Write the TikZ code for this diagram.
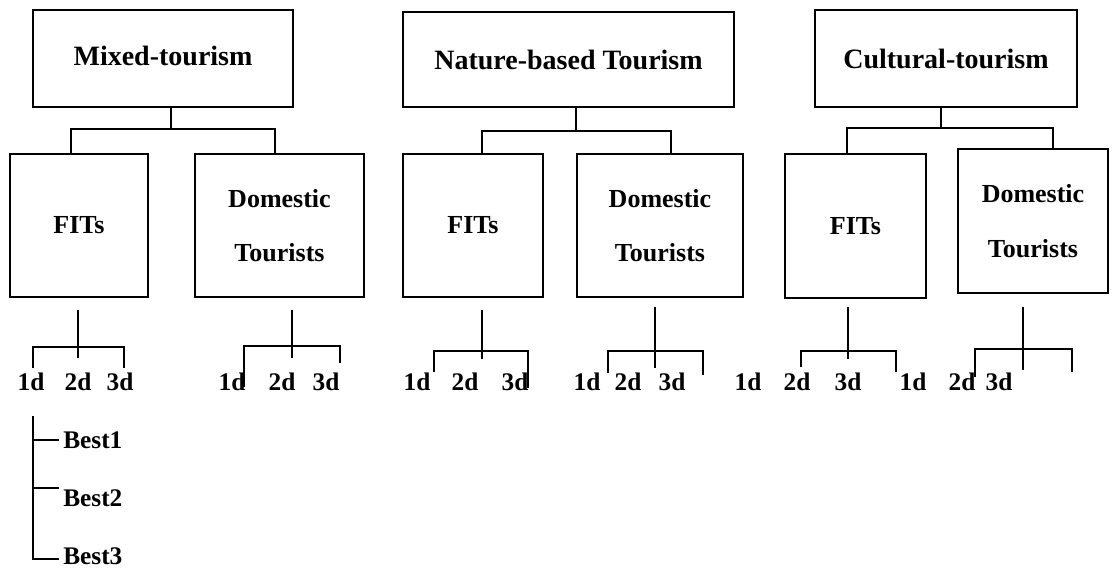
\documentclass[tikz,border=0pt]{standalone}
\usepackage{fontspec}
\setmainfont{Liberation Serif}
\begin{document}
\begin{tikzpicture}[x=0.75pt,y=-0.75pt,
  box/.style={draw,line width=1.4pt,inner sep=0pt,align=center,font=\fontsize{19.5}{41}\selectfont\bfseries},
  topbox/.style={box,font=\fontsize{21}{25}\selectfont\bfseries},
  lbl/.style={inner sep=3pt,font=\fontsize{19}{23}\selectfont\bfseries},
  conn/.style={line width=1.4pt}]
\useasboundingbox[fill=white] (0,0) rectangle (1118,571);

% top boxes
\node[topbox,minimum width=195pt,minimum height=72.75pt] (mix) at (163,58.5) {\raisebox{4pt}{Mixed-tourism}};
\node[topbox,minimum width=248.25pt,minimum height=71.25pt] (nat) at (568.5,59.5) {Nature-based Tourism};
\node[topbox,minimum width=196.5pt,minimum height=72.75pt] (cul) at (946,58.5) {Cultural-tourism};

% second level boxes
\node[box,minimum width=103.5pt,minimum height=107.25pt] (mixF) at (79,225.5) {FITs};
\node[box,minimum width=126.75pt,minimum height=107.25pt] (mixD) at (279.5,225.5) {Domestic\\Tourists};
\node[box,minimum width=105pt,minimum height=107.25pt] (natF) at (473,225.5) {FITs};
\node[box,minimum width=124.5pt,minimum height=107.25pt] (natD) at (660,225.5) {Domestic\\Tourists};
\node[box,minimum width=105.75pt,minimum height=108pt] (culF) at (855.5,226) {FITs};
\node[box,minimum width=112.5pt,minimum height=108pt] (culD) at (1033,221) {Domestic\\Tourists};

% first-level connectors
\coordinate (mixJ) at (171,129); \coordinate (mixL) at (71,129); \coordinate (mixR) at (275,129);
\draw[conn] (mix.south -| mixJ) -- (mixJ);
\draw[conn] (mixF.north -| mixL) -- (mixL) -- (mixR) -- (mixD.north -| mixR);

\coordinate (natJ) at (576,131); \coordinate (natL) at (482,131); \coordinate (natR) at (671,131);
\draw[conn] (nat.south -| natJ) -- (natJ);
\draw[conn] (natF.north -| natL) -- (natL) -- (natR) -- (natD.north -| natR);

\coordinate (culJ) at (941,128); \coordinate (culL) at (847,128); \coordinate (culR) at (1053,128);
\draw[conn] (cul.south -| culJ) -- (culJ);
\draw[conn] (culF.north -| culL) -- (culL) -- (culR) -- (culD.north -| culR);

% day labels
\node[lbl] (a1) at (31,382) {1d};
\node[lbl] (a2) at (78,382) {2d};
\node[lbl] (a3) at (120,382) {3d};
\node[lbl] (b1d) at (232,382) {1d};
\node[lbl] (b2d) at (282,382) {2d};
\node[lbl] (b3d) at (326,382) {3d};
\node[lbl] (c1) at (417,382) {1d};
\node[lbl] (c2) at (465,382) {2d};
\node[lbl] (c3) at (515,382) {3d};
\node[lbl] (d1) at (587,382) {1d};
\node[lbl] (d2) at (628,382) {2d};
\node[lbl] (d3) at (672,382) {3d};
\node[lbl] (e1) at (748,382) {1d};
\node[lbl] (e2) at (797,382) {2d};
\node[lbl] (e3) at (848,382) {3d};
\node[lbl] (f1) at (913,382) {1d};
\node[lbl] (f2) at (962,382) {2d};
\node[lbl] (f3) at (999,382) {3d};

% brackets: mixed FITs
\coordinate (aS1) at (78,310); \coordinate (aS2) at (78,358);
\coordinate (aT1) at (33,368); \coordinate (aB1) at (33,347); \coordinate (aB2) at (124,347); \coordinate (aT2) at (124,368);
\draw[conn] (aS1) -- (aS2);
\draw[conn] (aT1) -- (aB1) -- (aB2) -- (aT2);
% mixed domestic
\coordinate (bS1) at (292,310); \coordinate (bS2) at (292,358);
\coordinate (bT1) at (244,387); \coordinate (bB1) at (244,346); \coordinate (bB2) at (340,346); \coordinate (bT2) at (340,363);
\draw[conn] (bS1) -- (bS2);
\draw[conn] (bT1) -- (bB1) -- (bB2) -- (bT2);
% nature FITs
\coordinate (cS1) at (482,310); \coordinate (cS2) at (482,359);
\coordinate (cT1) at (434,372); \coordinate (cB1) at (434,351); \coordinate (cB2) at (528,351); \coordinate (cT2) at (528,388);
\draw[conn] (cS1) -- (cS2);
\draw[conn] (cT1) -- (cB1) -- (cB2) -- (cT2);
% nature domestic
\coordinate (dS1) at (655,307); \coordinate (dS2) at (655,368);
\coordinate (dT1) at (608,373); \coordinate (dB1) at (608,351); \coordinate (dB2) at (703,351); \coordinate (dT2) at (703,375);
\draw[conn] (dS1) -- (dS2);
\draw[conn] (dT1) -- (dB1) -- (dB2) -- (dT2);
% cultural FITs
\coordinate (eS1) at (848,307); \coordinate (eS2) at (848,359);
\coordinate (eT1) at (801,367); \coordinate (eB1) at (801,351); \coordinate (eB2) at (896,351); \coordinate (eT2) at (896,372);
\draw[conn] (eS1) -- (eS2);
\draw[conn] (eT1) -- (eB1) -- (eB2) -- (eT2);
% cultural domestic
\coordinate (fS1) at (1023,307); \coordinate (fS2) at (1023,370);
\coordinate (fT1) at (975,377); \coordinate (fB1) at (975,349); \coordinate (fB2) at (1072,349); \coordinate (fT2) at (1072,372);
\draw[conn] (fS1) -- (fS2);
\draw[conn] (fT1) -- (fB1) -- (fB2) -- (fT2);

% best list
\node[lbl,anchor=west] (best1) at (59,440) {Best1};
\node[lbl,anchor=west] (best2) at (59,498) {Best2};
\node[lbl,anchor=west] (best3) at (59,556) {Best3};
\coordinate (bt) at (33,416); \coordinate (bj1) at (33,440); \coordinate (bj2) at (33,488); \coordinate (bb) at (33,559);
\draw[conn] (bt) -- (bb) -- (bb -| best3.west);
\draw[conn] (bj1) -- (bj1 -| best1.west);
\draw[conn] (bj2) -- (bj2 -| best2.west);
\end{tikzpicture}
\end{document}
